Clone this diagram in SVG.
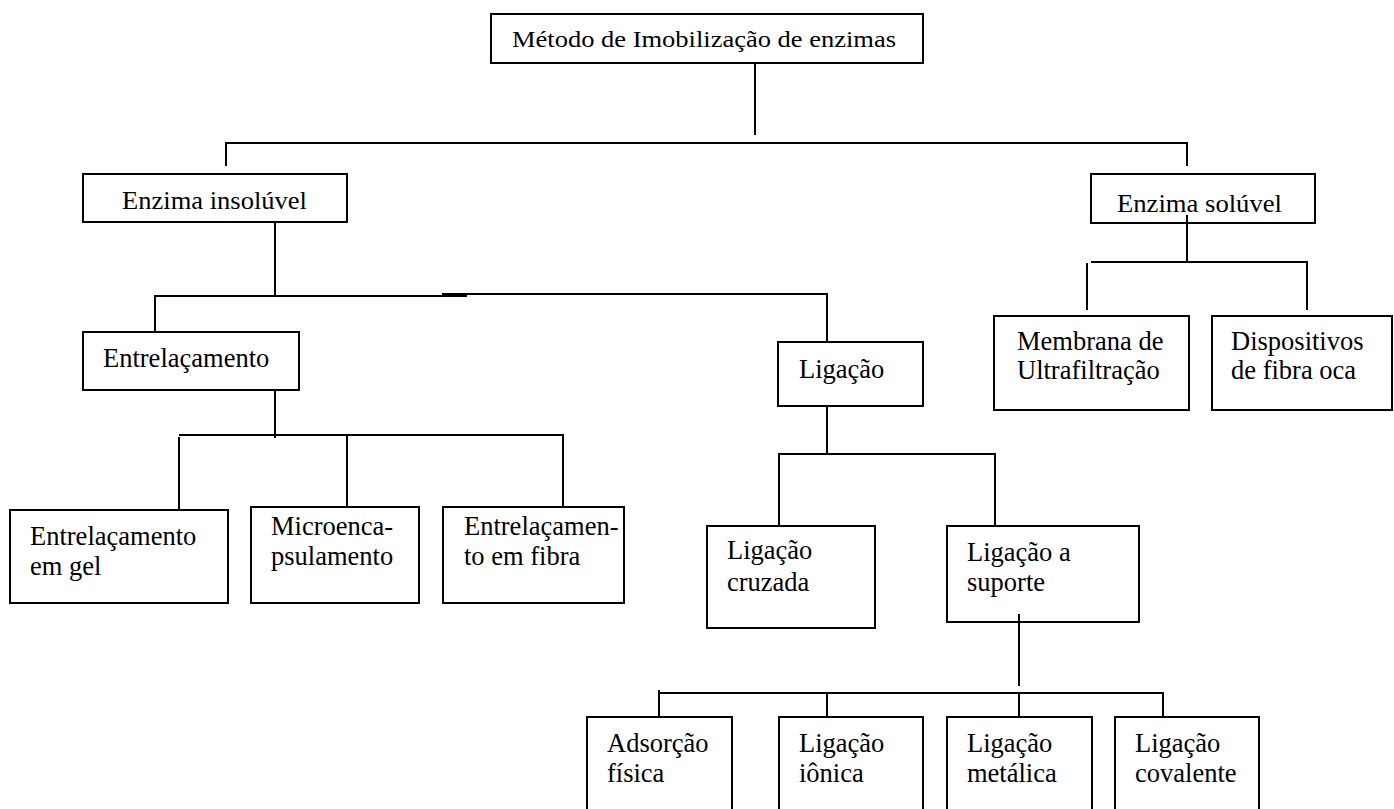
<svg xmlns="http://www.w3.org/2000/svg" width="1394" height="809" viewBox="0 0 1394 809">
<style>
.box{fill:#fff;stroke:#000;stroke-width:2}
.ln{stroke:#000;stroke-width:2;fill:none}
text{font-family:"Liberation Serif","Times New Roman",serif;font-size:26.5px;fill:#000}
</style>
<rect width="1394" height="809" fill="#fff"/>
<g id="connectors">
<line class="ln" x1="755" y1="63" x2="755" y2="135"/>
<line class="ln" x1="226" y1="143" x2="1187" y2="143"/>
<line class="ln" x1="226" y1="142" x2="226" y2="166"/>
<line class="ln" x1="1187" y1="142" x2="1187" y2="166"/>
<line class="ln" x1="275" y1="222" x2="275" y2="296"/>
<line class="ln" x1="155" y1="296" x2="467" y2="296"/>
<line class="ln" x1="442" y1="294" x2="827" y2="294"/>
<line class="ln" x1="155" y1="295" x2="155" y2="332"/>
<line class="ln" x1="827" y1="293" x2="827" y2="342"/>
<line class="ln" x1="275" y1="390" x2="275" y2="438"/>
<line class="ln" x1="179" y1="435" x2="563" y2="435"/>
<line class="ln" x1="179" y1="437" x2="179" y2="510"/>
<line class="ln" x1="347" y1="435" x2="347" y2="507"/>
<line class="ln" x1="563" y1="434" x2="563" y2="507"/>
<line class="ln" x1="827" y1="406" x2="827" y2="454"/>
<line class="ln" x1="779" y1="454" x2="995" y2="454"/>
<line class="ln" x1="779" y1="453" x2="779" y2="526"/>
<line class="ln" x1="995" y1="453" x2="995" y2="526"/>
<line class="ln" x1="1019" y1="614" x2="1019" y2="686"/>
<line class="ln" x1="659" y1="693" x2="1163" y2="693"/>
<line class="ln" x1="659" y1="690" x2="659" y2="717"/>
<line class="ln" x1="827" y1="693" x2="827" y2="717"/>
<line class="ln" x1="1019" y1="693" x2="1019" y2="717"/>
<line class="ln" x1="1163" y1="692" x2="1163" y2="717"/>
<line class="ln" x1="1187" y1="215" x2="1187" y2="262"/>
<line class="ln" x1="1091" y1="262" x2="1307" y2="262"/>
<line class="ln" x1="1087" y1="263" x2="1087" y2="310"/>
<line class="ln" x1="1307" y1="261" x2="1307" y2="310"/>
</g>
<g id="n-metodo"><rect class="box" x="491" y="14" width="432" height="49"/><text x="512" y="47" style="font-size:24px" textLength="384" lengthAdjust="spacingAndGlyphs">Método de Imobilização de enzimas</text></g>
<g id="n-insoluvel"><rect class="box" x="83" y="174" width="264" height="48"/><text x="122" y="209" style="font-size:24.5px" textLength="185" lengthAdjust="spacingAndGlyphs">Enzima insolúvel</text></g>
<g id="n-soluvel"><rect class="box" x="1091" y="174" width="224" height="49"/><text x="1117" y="212" style="font-size:24.5px" textLength="165" lengthAdjust="spacingAndGlyphs">Enzima solúvel</text></g>
<line class="ln" x1="1187" y1="215" x2="1187" y2="223"/>
<g id="n-entrelacamento"><rect class="box" x="83" y="332" width="216" height="58"/><text x="103" y="367">Entrelaçamento</text></g>
<g id="n-ligacao"><rect class="box" x="778" y="342" width="145" height="64"/><text x="799" y="378">Ligação</text></g>
<g id="n-membrana"><rect class="box" x="994" y="316" width="195" height="94"/><text x="1017" y="350">Membrana de</text><text x="1017" y="379">Ultrafiltração</text></g>
<g id="n-dispositivos"><rect class="box" x="1212" y="316" width="180" height="94"/><text x="1231" y="350">Dispositivos</text><text x="1231" y="379">de fibra oca</text></g>
<g id="n-gel"><rect class="box" x="10" y="510" width="218" height="93"/><text x="30" y="545">Entrelaçamento</text><text x="30" y="575">em gel</text></g>
<g id="n-micro"><rect class="box" x="251" y="507" width="168" height="96"/><text x="271" y="535">Microenca-</text><text x="271" y="565">psulamento</text></g>
<g id="n-fibra"><rect class="box" x="443" y="507" width="181" height="96"/><text x="464" y="535">Entrelaçamen-</text><text x="464" y="565">to em fibra</text></g>
<g id="n-cruzada"><rect class="box" x="707" y="526" width="168" height="102"/><text x="727" y="559">Ligação</text><text x="727" y="591">cruzada</text></g>
<g id="n-suporte"><rect class="box" x="947" y="526" width="192" height="96"/><text x="967" y="561">Ligação a</text><text x="967" y="591">suporte</text></g>
<line class="ln" x1="1019" y1="614" x2="1019" y2="622"/>
<g id="n-adsorcao"><rect class="box" x="587" y="717" width="145" height="100"/><text x="607" y="752">Adsorção</text><text x="607" y="782">física</text></g>
<g id="n-ionica"><rect class="box" x="779" y="717" width="144" height="100"/><text x="799" y="752">Ligação</text><text x="799" y="782">iônica</text></g>
<g id="n-metalica"><rect class="box" x="947" y="717" width="145" height="100"/><text x="967" y="752">Ligação</text><text x="967" y="782">metálica</text></g>
<g id="n-covalente"><rect class="box" x="1115" y="717" width="144" height="100"/><text x="1135" y="752">Ligação</text><text x="1135" y="782">covalente</text></g>
</svg>
